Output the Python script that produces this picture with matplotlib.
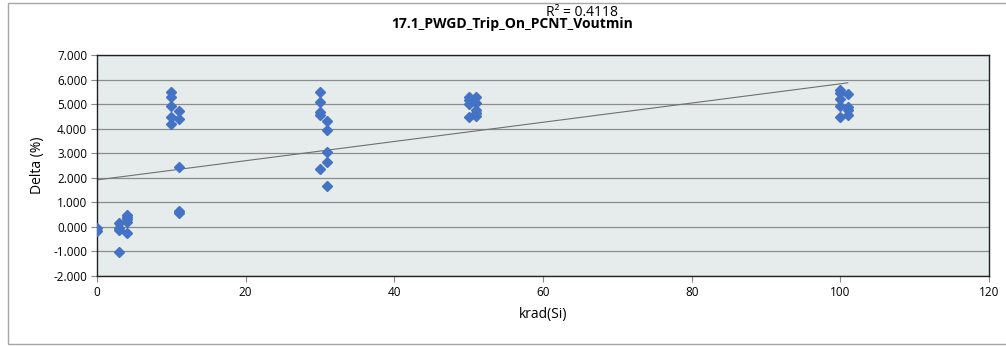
import numpy as np
import matplotlib.pyplot as plt
from matplotlib.patches import Rectangle

# dose (krad(Si)) and delta (%)
dose = [0, 0,
        3, 3, 3, 3,
        4, 4, 4, 4, 4,
        10, 10, 10, 10, 10,
        11, 11, 11, 11, 11,
        30, 30, 30, 30, 30,
        31, 31, 31, 31, 31,
        50, 50, 50, 50,
        51, 51, 51, 51, 51,
        100, 100, 100, 100, 100,
        101, 101, 101, 101]
delta = [-0.05, -0.17,
         0.17, -0.05, -0.13, -1.02,
         0.48, 0.40, 0.32, 0.20, -0.24,
         5.48, 5.30, 4.93, 4.46, 4.18,
         4.72, 4.39, 2.44, 0.64, 0.57,
         5.50, 5.09, 4.68, 4.54, 2.35,
         4.32, 3.96, 3.04, 2.63, 1.68,
         5.30, 5.17, 4.99, 4.46,
         5.27, 5.05, 4.76, 4.64, 4.50,
         5.57, 5.44, 5.21, 4.93, 4.49,
         5.40, 4.89, 4.76, 4.56]
r2_label = "R² = 0.4118"
title = "17.1_PWGD_Trip_On_PCNT_Voutmin"

plt.rcParams['font.family'] = ['Open Sans', 'DejaVu Sans']

fig = plt.figure(figsize=(10.06, 3.46), dpi=100)
fig.patches.append(Rectangle((8 / 1006, 2 / 346), 1.2, 341 / 346, transform=fig.transFigure,
                             fill=False, edgecolor='#A6A6A6', linewidth=1.0))
ax = fig.add_axes([97 / 1006, 1 - 276 / 346, (989 - 97) / 1006, (276 - 55) / 346])
ax.set_facecolor('#E6ECEC')

ax.set_xlim(0, 120)
ax.set_ylim(-2, 7)
ax.set_xticks(np.arange(0, 121, 20))
ax.set_yticks(np.arange(-2, 7.1, 1))
ax.yaxis.set_major_formatter(plt.FuncFormatter(lambda v, p: f"{v:.3f}"))
ax.grid(axis='y', color='#8C8C8C', linewidth=0.9)
ax.set_axisbelow(True)
for s in ax.spines.values():
    s.set_color('#222222')
    s.set_linewidth(1.0)
ax.tick_params(axis='both', labelsize=8.5, color='#888888', length=4, pad=3)

# linear trendline
x = np.array(dose, dtype=float)
y = np.array(delta)
m, b = np.polyfit(x, y, 1)
xt = np.array([x.min(), x.max()])
ax.plot(xt, m * xt + b, color='#707070', linewidth=0.8, zorder=2)

ax.plot(dose, delta, linestyle='none', marker='D', markersize=5.5,
        color='#4472C4', zorder=3)

ax.set_xlabel("krad(Si)", fontsize=10, labelpad=6)
ax.set_ylabel("Delta (%)", fontsize=10, labelpad=6)

fig.text(512 / 1006, 1 - 24 / 346, title, ha='center', va='center',
         fontsize=10, fontweight='bold')
fig.text(582 / 1006, 1 - 13 / 346, r2_label, ha='center', va='center', fontsize=10)

fig.savefig('out.png', dpi=100)
